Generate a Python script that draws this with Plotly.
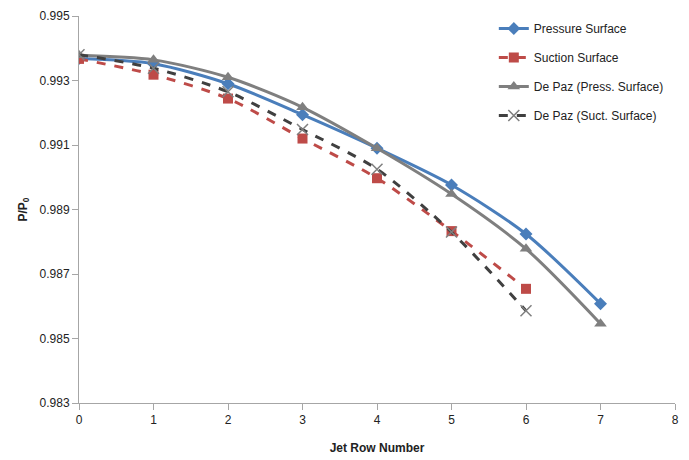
import plotly.graph_objects as go

jet_rows = [0, 1, 2, 3, 4, 5, 6, 7]
pressure_surface = [0.99368, 0.99352, 0.99290, 0.99194, 0.99090, 0.98976, 0.98824, 0.98608]
suction_surface = [0.99367, 0.99318, 0.99244, 0.99120, 0.98997, 0.98833, 0.98654]
depaz_press = [0.99378, 0.99364, 0.99310, 0.99217, 0.99090, 0.98948, 0.98778, 0.98546]
depaz_suct = [0.99380, 0.99338, 0.99265, 0.99148, 0.99025, 0.98830, 0.98586]

x_ticks = [0, 1, 2, 3, 4, 5, 6, 7, 8]
y_ticks = [0.983, 0.985, 0.987, 0.989, 0.991, 0.993, 0.995]

FONT = "Liberation Sans, Arial, sans-serif"

fig = go.Figure()
fig.add_trace(go.Scatter(
    x=jet_rows, y=pressure_surface, name="Pressure Surface", legendgroup="a",
    mode="lines+markers", line=dict(color="#4A7EBB", width=3, shape="spline", smoothing=0.8),
    marker=dict(symbol="diamond", size=10, color="#4A7EBB")))
fig.add_trace(go.Scatter(
    x=jet_rows[:7], y=suction_surface, name="Suction Surface", legendgroup="b",
    mode="lines+markers", line=dict(color="#BE4B48", width=3, dash="dash", shape="spline", smoothing=0.8),
    marker=dict(symbol="square", size=10, color="#BE4B48")))
fig.add_trace(go.Scatter(
    x=jet_rows, y=depaz_press, name="De Paz (Press. Surface)", legendgroup="c",
    mode="lines+markers", line=dict(color="#7F7F7F", width=3, shape="spline", smoothing=0.8),
    marker=dict(symbol="triangle-up", size=11, color="#7F7F7F")))
fig.add_trace(go.Scatter(
    x=jet_rows[:7], y=depaz_suct, name="De Paz (Suct. Surface)", legendgroup="d",
    mode="lines+markers", line=dict(color="#404040", width=3, dash="dash", shape="spline", smoothing=0.8),
    marker=dict(symbol="x-thin", size=11, line=dict(color="#7F7F7F", width=1.5), color="#7F7F7F")))

axis_common = dict(
    showline=True, linecolor="#A6A6A6", linewidth=1, ticks="outside", tickcolor="#A6A6A6",
    ticklen=6, showgrid=False, zeroline=False, automargin=False,
    tickfont=dict(family=FONT, size=12, color="#222222"),
)
fig.update_xaxes(
    range=[0, 8], tickvals=x_ticks, ticktext=[str(v) for v in x_ticks],
    title=dict(text="<b>Jet Row Number</b>", font=dict(family=FONT, size=12, color="#222222"), standoff=17),
    **axis_common)
fig.update_yaxes(
    range=[0.983, 0.995], tickvals=y_ticks, ticktext=[f"{v:.3f}" for v in y_ticks],
    title=dict(text="<b>P/P<sub>0</sub></b>", font=dict(family=FONT, size=12, color="#222222"), standoff=9),
    **axis_common)

# page body has an 8px margin, so the figure is 8px smaller and margins shifted
fig.update_layout(
    width=681, height=452,
    margin=dict(l=71, r=14, t=6, b=57),
    plot_bgcolor="white", paper_bgcolor="white",
    legend=dict(x=0.696, y=1.005, xanchor="left", yanchor="top",
                font=dict(family=FONT, size=12, color="#222222"),
                tracegroupgap=10, bgcolor="rgba(255,255,255,0)"),
)

fig.write_html("out.html")
